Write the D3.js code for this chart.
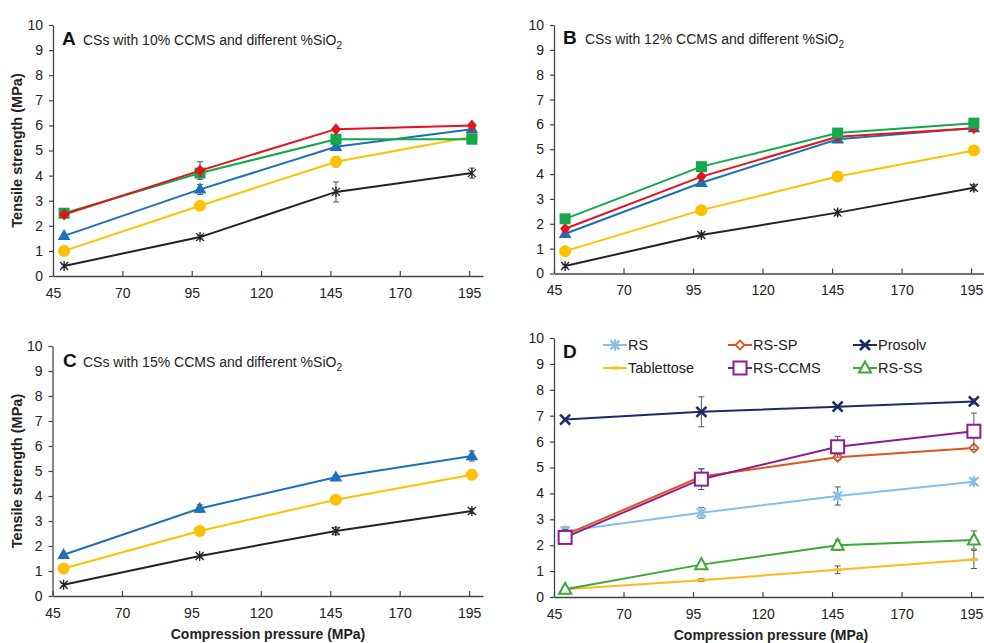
<!DOCTYPE html>
<html>
<head>
<meta charset="utf-8">
<script src="https://cdn.jsdelivr.net/npm/d3@7"></script>
<style>
  body { margin: 0; background: #fff; }
  svg { font-family: "Liberation Sans", Arial, sans-serif; }
</style>
</head>
<body>
<div id="chart"></div>
<script>
// compression pressures (MPa)
var pressures = [49, 98, 147, 196];
var xTicks = [45, 70, 95, 120, 145, 170, 195];
var yTicks = [0, 1, 2, 3, 4, 5, 6, 7, 8, 9, 10];

// panel A - 10% CCMS
var aRed = [2.45, 4.2, 5.85, 6.0];
var aGreen = [2.5, 4.1, 5.45, 5.45];
var aBlue = [1.6, 3.45, 5.15, 5.85];
var aYellow = [1.0, 2.8, 4.55, 5.55];
var aBlack = [0.4, 1.55, 3.35, 4.1];
var aRedErr = [0.1, 0.35, 0.08, 0.08];
var aGreenErr = [0.08, 0.1, 0.1, 0.15];
var aBlueErr = [0.05, 0.2, 0.1, 0.1];
var aYellowErr = [0.05, 0.05, 0.2, 0.1];
var aBlackErr = [0.05, 0.08, 0.4, 0.2];

// panel B - 12% CCMS
var bGreen = [2.2, 4.3, 5.65, 6.05];
var bRed = [1.8, 3.9, 5.5, 5.85];
var bBlue = [1.6, 3.65, 5.4, 5.85];
var bYellow = [0.9, 2.55, 3.9, 4.95];
var bBlack = [0.3, 1.55, 2.45, 3.45];
var bErr = [0.05, 0.08, 0.1, 0.12];

// panel C - 15% CCMS
var cBlue = [1.65, 3.5, 4.75, 5.6];
var cYellow = [1.1, 2.6, 3.85, 4.85];
var cBlack = [0.45, 1.6, 2.6, 3.4];
var cBlueErr = [0.05, 0.15, 0.08, 0.2];
var cYellowErr = [0.05, 0.05, 0.08, 0.08];
var cBlackErr = [0.05, 0.05, 0.15, 0.1];

// panel D - reference excipients
var dNames = ["RS", "RS-SP", "Prosolv", "Tablettose", "RS-CCMS", "RS-SS"];
var dRS = [2.55, 3.25, 3.9, 4.45];
var dRSSP = [2.4, 4.65, 5.4, 5.75];
var dProsolv = [6.85, 7.15, 7.35, 7.55];
var dTablettose = [0.3, 0.65, 1.05, 1.45];
var dRSCCMS = [2.3, 4.55, 5.8, 6.4];
var dRSSS = [0.3, 1.25, 2.0, 2.2];
var dRSErr = [0.15, 0.2, 0.35, 0.1];
var dRSSPErr = [0.2, 0.3, 0.1, 0.1];
var dProsolvErr = [0.05, 0.58, 0.05, 0.1];
var dTablettoseErr = [0.05, 0.05, 0.15, 0.35];
var dRSCCMSErr = [0.2, 0.4, 0.4, 0.7];
var dRSSSErr = [0.05, 0.1, 0.2, 0.35];

var w = 984, h = 643;

var svg = d3.select("#chart")
  .append("svg")
  .attr("width", w)
  .attr("height", h);

//marker drawing
function drawMarker(g, type, color, x, y) {
  if (type == "circle") {
    g.append("circle").attr("cx", x).attr("cy", y).attr("r", 6).attr("fill", color);
  } else if (type == "square") {
    g.append("rect").attr("x", x - 5.5).attr("y", y - 5.5).attr("width", 11).attr("height", 11).attr("fill", color);
  } else if (type == "triangle") {
    g.append("path").attr("d", d3.symbol().type(d3.symbolTriangle).size(70)()).attr("transform", "translate(" + x + "," + (y + 0.5) + ")").attr("fill", color);
  } else if (type == "diamond") {
    g.append("path").attr("d", "M0,-6L5,0L0,6L-5,0Z").attr("transform", "translate(" + x + "," + y + ")").attr("fill", color);
  } else if (type == "star") {
    g.append("path").attr("d", "M-4,-4L4,4M-4,4L4,-4M0,-5L0,5").attr("transform", "translate(" + x + "," + y + ")")
      .attr("stroke", color).attr("stroke-width", 1.3).attr("fill", "none");
  } else if (type == "starBold") {
    g.append("path").attr("d", "M-4.5,-4.5L4.5,4.5M-4.5,4.5L4.5,-4.5M0,-5.5L0,5.5").attr("transform", "translate(" + x + "," + y + ")")
      .attr("stroke", color).attr("stroke-width", 2.2).attr("fill", "none");
  } else if (type == "cross") {
    g.append("path").attr("d", "M-5,-5L5,5M-5,5L5,-5").attr("transform", "translate(" + x + "," + y + ")")
      .attr("stroke", color).attr("stroke-width", 2.6).attr("fill", "none");
  } else if (type == "openDiamond") {
    g.append("path").attr("d", "M0,-4.5L4.5,0L0,4.5L-4.5,0Z").attr("transform", "translate(" + x + "," + y + ")")
      .attr("fill", "white").attr("stroke", color).attr("stroke-width", 1.8);
  } else if (type == "openSquare") {
    g.append("rect").attr("x", x - 6.5).attr("y", y - 6.5).attr("width", 13).attr("height", 13)
      .attr("fill", "white").attr("stroke", color).attr("stroke-width", 2);
  } else if (type == "openTriangle") {
    g.append("path").attr("d", "M0,-6.5L6,4.5L-6,4.5Z").attr("transform", "translate(" + x + "," + y + ")")
      .attr("fill", "white").attr("stroke", color).attr("stroke-width", 2);
  } else if (type == "dash") {
    g.append("path").attr("d", "M-4,0L4,0").attr("transform", "translate(" + x + "," + y + ")")
      .attr("stroke", color).attr("stroke-width", 3);
  }
}

function drawPanel(p) {
  var xScale = d3.scaleLinear().domain([45, 200]).range([p.left, p.right]);
  var yScale = d3.scaleLinear().domain([0, 10]).range([p.bottom, p.top]);

  var g = svg.append("g");

  //X axis, ticks pointing inside
  var xAxis = d3.axisBottom(xScale).tickValues(xTicks).tickSize(-5).tickSizeOuter(0).tickPadding(12);
  var gx = g.append("g")
    .attr("transform", "translate(0," + p.bottom + ")")
    .call(xAxis);
  gx.selectAll("text").attr("font-size", 14).attr("font-family", "Liberation Sans, Arial, sans-serif").attr("fill", "#222");

  //Y axis
  var yAxis = d3.axisLeft(yScale).tickValues(yTicks).tickSize(4).tickSizeOuter(0).tickPadding(6);
  var gy = g.append("g")
    .attr("transform", "translate(" + p.left + ",0)")
    .call(yAxis);
  gy.selectAll("text").attr("font-size", 14).attr("font-family", "Liberation Sans, Arial, sans-serif").attr("fill", "#222");

  g.selectAll(".domain").attr("stroke", "#444").attr("stroke-width", 1.3);
  g.selectAll(".tick line").attr("stroke", "#444").attr("stroke-width", 1.2);

  var line = d3.line()
    .x(function(d) { return xScale(d.x); })
    .y(function(d) { return yScale(d.y); });

  p.series.forEach(function(s) {
    var pts = pressures.map(function(x, i) { return { x: x, y: s.values[i], e: s.err[i] }; });
    var sg = g.append("g");
    sg.append("path")
      .datum(pts)
      .attr("d", line)
      .attr("fill", "none")
      .attr("stroke", s.color)
      .attr("stroke-width", 2);
    //error bars
    pts.forEach(function(d) {
      var cx = xScale(d.x);
      var y1 = yScale(d.y - d.e), y2 = yScale(d.y + d.e);
      sg.append("path")
        .attr("d", "M" + cx + "," + y1 + "L" + cx + "," + y2 + "M" + (cx - 3) + "," + y1 + "L" + (cx + 3) + "," + y1 + "M" + (cx - 3) + "," + y2 + "L" + (cx + 3) + "," + y2)
        .attr("stroke", "#555")
        .attr("stroke-width", 1)
        .attr("fill", "none");
    });
    pts.forEach(function(d) {
      drawMarker(sg, s.marker, s.color, xScale(d.x), yScale(d.y));
    });
  });

  //panel letter and title
  if (p.letter) {
    g.append("text")
      .attr("x", p.letterX)
      .attr("y", p.letterY)
      .attr("font-size", 19)
      .attr("font-weight", "bold")
      .attr("fill", "#111")
      .text(p.letter);
  }
  if (p.title) {
    var t = g.append("text")
      .attr("x", p.titleX)
      .attr("y", p.letterY)
      .attr("font-size", 14)
      .attr("fill", "#222");
    t.append("tspan").text(p.title);
    t.append("tspan").attr("font-size", 10).attr("dy", 4).text("2");
  }
  if (p.yTitle) {
    g.append("text")
      .attr("transform", "translate(" + (p.left - 31) + "," + ((p.top + p.bottom) / 2) + ") rotate(-90)")
      .attr("text-anchor", "middle")
      .attr("font-size", 14.5)
      .attr("font-weight", "bold")
      .attr("fill", "#222")
      .text("Tensile strength (MPa)");
  }
  if (p.xTitle) {
    g.append("text")
      .attr("x", p.xTitleX)
      .attr("y", p.bottom + 43)
      .attr("text-anchor", "middle")
      .attr("font-size", 14)
      .attr("font-weight", "bold")
      .attr("fill", "#222")
      .text("Compression pressure (MPa)");
  }
  return g;
}

var colRed = "#e3141b", colGreen = "#12a84b", colBlue = "#1e6fba", colYellow = "#ffc000", colBlack = "#222";

drawPanel({
  left: 53, right: 483, top: 25, bottom: 276,
  letter: "A", letterX: 62, letterY: 45, titleX: 83,
  title: "CSs with 10% CCMS and different %SiO", yTitle: true,
  series: [
    { values: aBlack, err: aBlackErr, color: colBlack, marker: "star" },
    { values: aYellow, err: aYellowErr, color: colYellow, marker: "circle" },
    { values: aBlue, err: aBlueErr, color: colBlue, marker: "triangle" },
    { values: aGreen, err: aGreenErr, color: colGreen, marker: "square" },
    { values: aRed, err: aRedErr, color: colRed, marker: "diamond" }
  ]
});

drawPanel({
  left: 554, right: 985, top: 25, bottom: 273.5,
  letter: "B", letterX: 563, letterY: 44, titleX: 585,
  title: "CSs with 12% CCMS and different %SiO",
  series: [
    { values: bBlack, err: bErr, color: colBlack, marker: "star" },
    { values: bYellow, err: bErr, color: colYellow, marker: "circle" },
    { values: bBlue, err: bErr, color: colBlue, marker: "triangle" },
    { values: bRed, err: bErr, color: colRed, marker: "diamond" },
    { values: bGreen, err: bErr, color: colGreen, marker: "square" }
  ]
});

drawPanel({
  left: 52.5, right: 483, top: 346, bottom: 596,
  letter: "C", letterX: 63, letterY: 367, titleX: 83,
  title: "CSs with 15% CCMS and different %SiO", yTitle: true, xTitle: true, xTitleX: 268,
  series: [
    { values: cBlack, err: cBlackErr, color: colBlack, marker: "star" },
    { values: cYellow, err: cYellowErr, color: colYellow, marker: "circle" },
    { values: cBlue, err: cBlueErr, color: colBlue, marker: "triangle" }
  ]
});

var dColors = ["#86c0ea", "#e4521b", "#1c2a66", "#ffb820", "#8e1d8e", "#3aa935"];
var dMarkers = ["starBold", "openDiamond", "cross", "dash", "openSquare", "openTriangle"];
var dValues = [dRS, dRSSP, dProsolv, dTablettose, dRSCCMS, dRSSS];
var dErrs = [dRSErr, dRSSPErr, dProsolvErr, dTablettoseErr, dRSCCMSErr, dRSSSErr];
var dOrder = [3, 5, 0, 1, 4, 2];

var gD = drawPanel({
  left: 554, right: 985, top: 338, bottom: 597,
  letter: "D", letterX: 563, letterY: 358,
  xTitle: true, xTitleX: 771,
  series: dOrder.map(function(i) {
    return { values: dValues[i], err: dErrs[i], color: dColors[i], marker: dMarkers[i] };
  })
});

//legend for D, 3 columns x 2 rows
var legendX = [603, 728, 853];
var legendY = [345, 368];
dNames.forEach(function(name, i) {
  var lx = legendX[i % 3], ly = legendY[Math.floor(i / 3)];
  var lg = gD.append("g");
  lg.append("line")
    .attr("x1", lx).attr("x2", lx + 24)
    .attr("y1", ly).attr("y2", ly)
    .attr("stroke", dColors[i]).attr("stroke-width", 2);
  drawMarker(lg, dMarkers[i], dColors[i], lx + 12, ly);
  lg.append("text")
    .attr("x", lx + 25)
    .attr("y", ly + 5)
    .attr("font-size", 14.5)
    .attr("fill", "#222")
    .text(name);
});
</script>
</body>
</html>
